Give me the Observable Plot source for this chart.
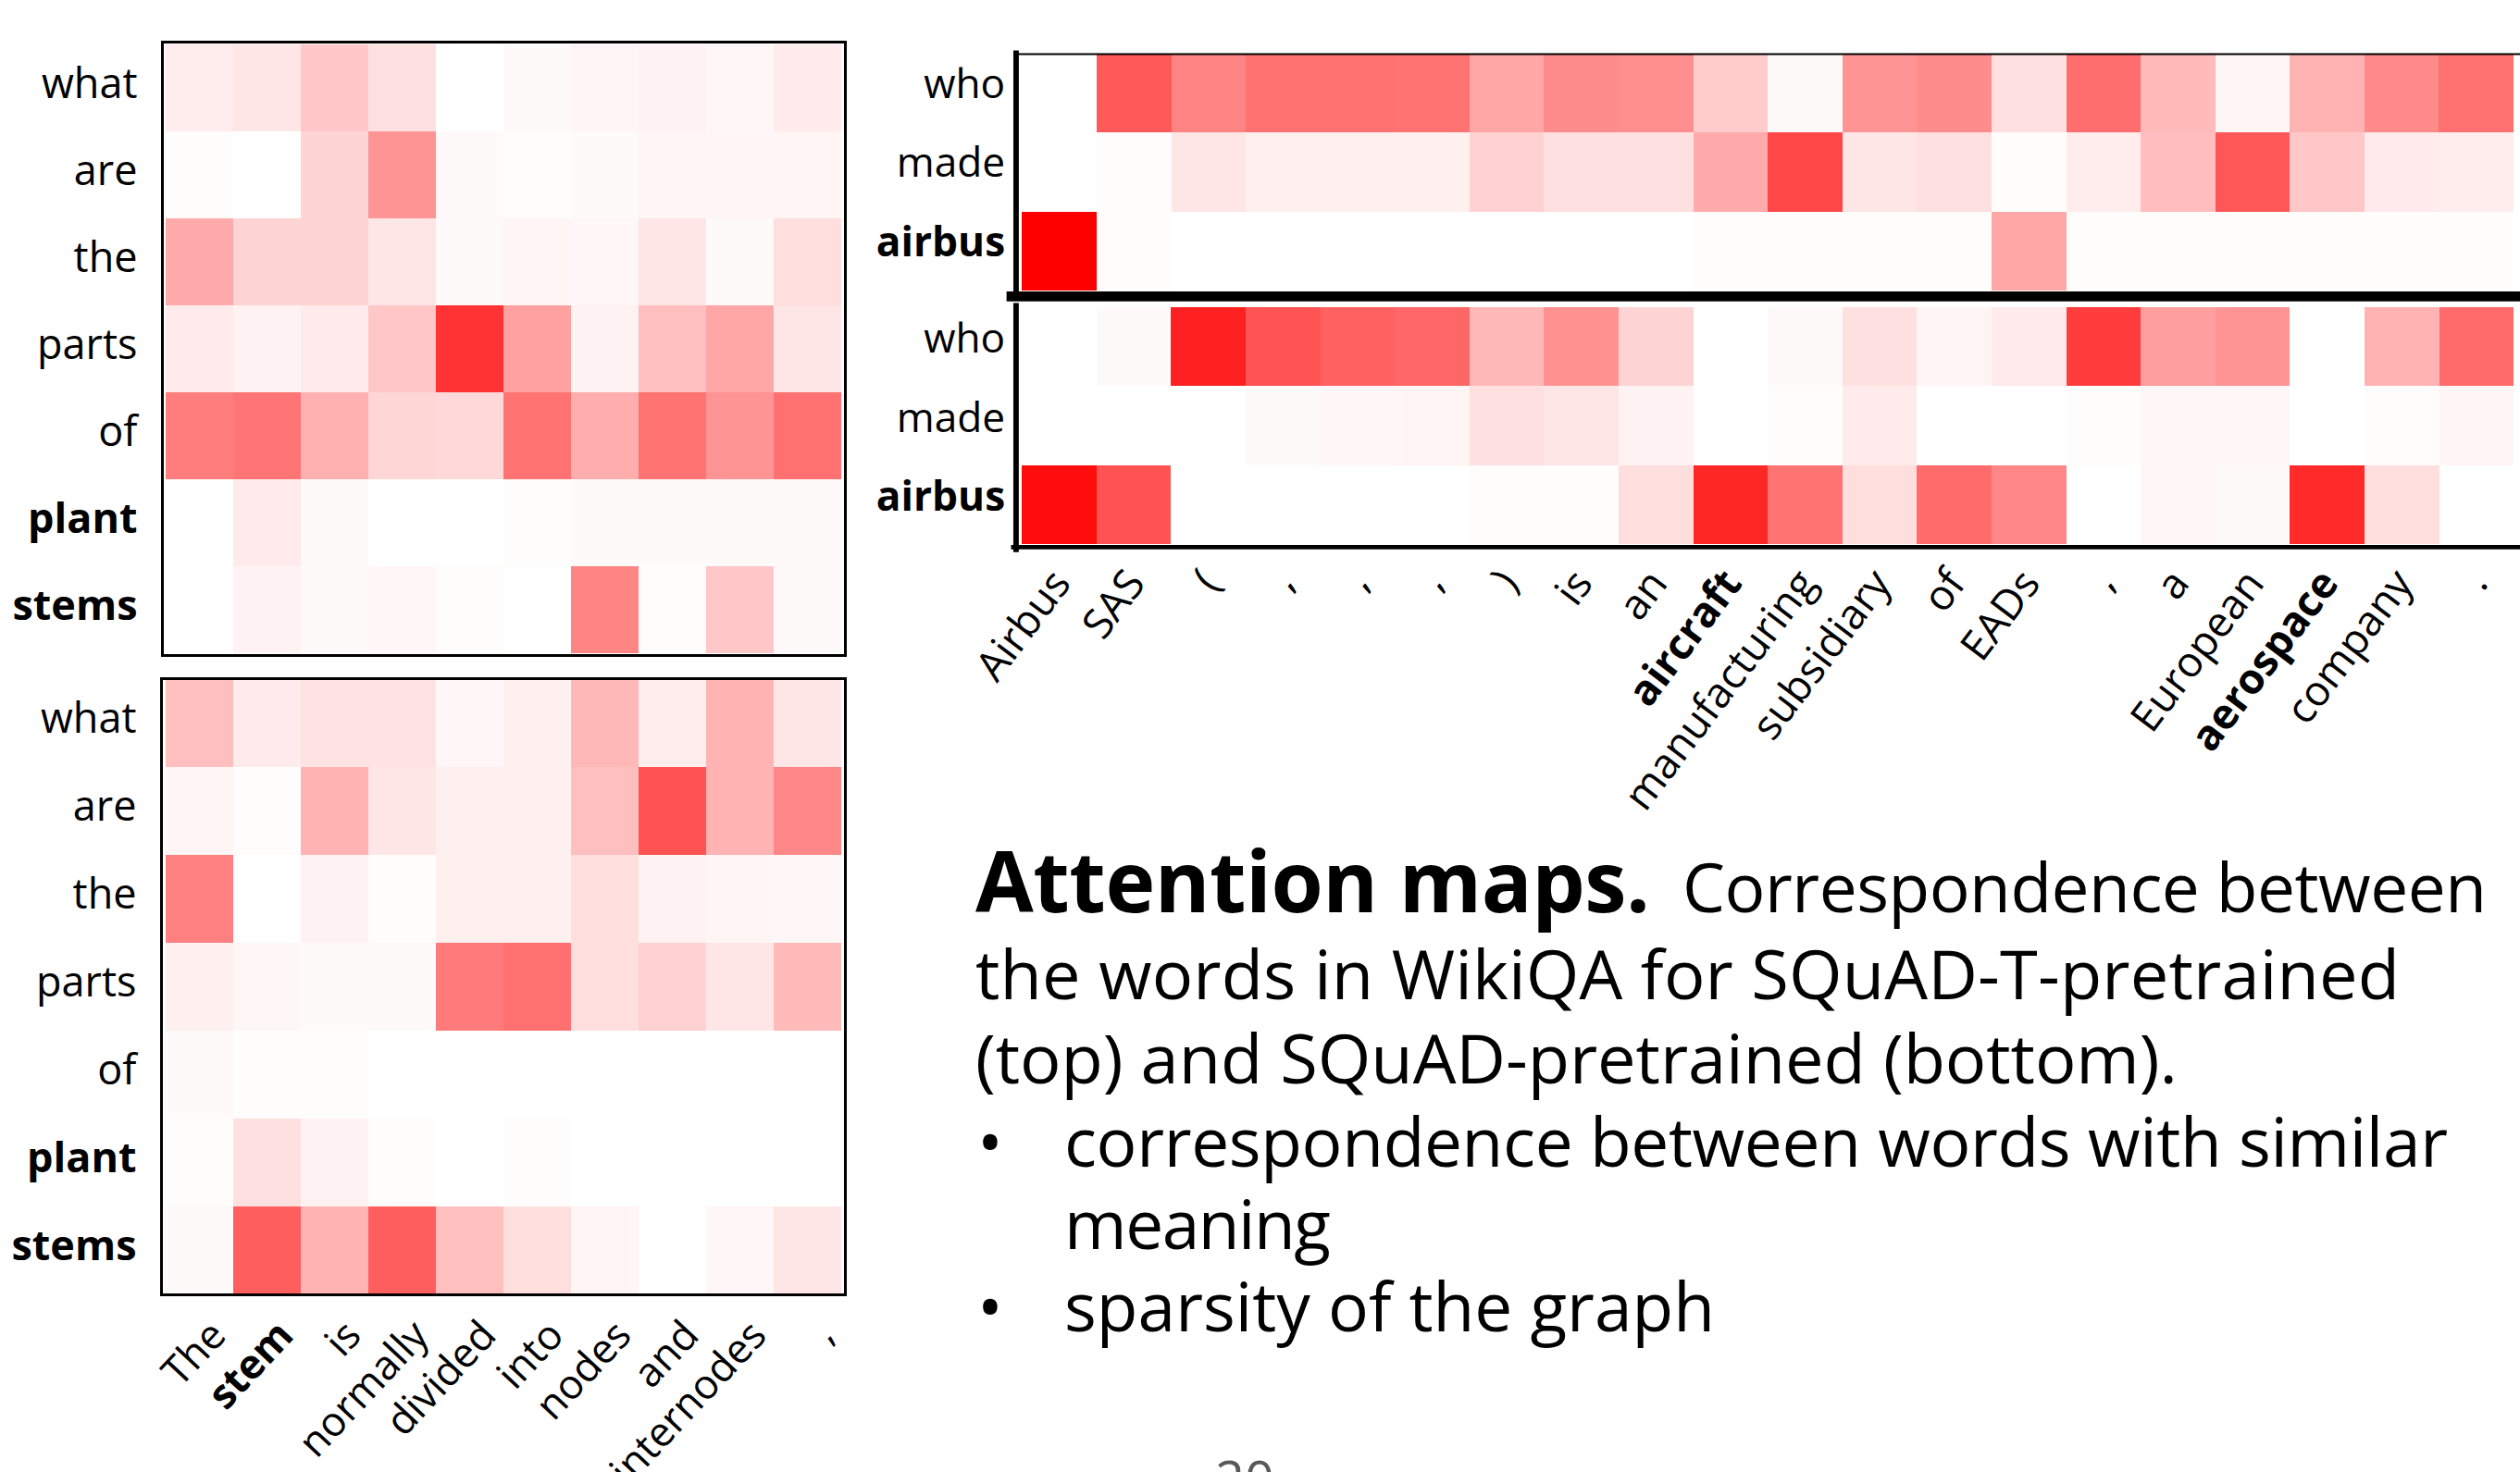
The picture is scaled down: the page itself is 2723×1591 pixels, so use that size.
<!DOCTYPE html>
<html><head><meta charset="utf-8">
<script src="https://cdn.jsdelivr.net/npm/d3@7"></script>
<script src="https://cdn.jsdelivr.net/npm/@observablehq/plot@0.6"></script>
<style>
html,body{margin:0;padding:0;background:#fff;}
body{width:2723px;height:1591px;overflow:hidden;position:relative;font-family:"Open Sans",sans-serif;}
.abs{position:absolute;}
.abs svg{overflow:visible;}
</style></head><body>
<div id="lt" class="abs" style="left:0;top:0"></div>
<div id="lb" class="abs" style="left:0;top:690px"></div>
<div id="rt" class="abs" style="left:950px;top:0"></div>
<div id="rb" class="abs" style="left:950px;top:325px"></div>
<svg class="abs" style="left:0;top:0" width="2723" height="1591" font-family="'Open Sans', sans-serif" fill="#000">
  <text x="1054" y="986" font-weight="bold" font-size="91" textLength="729" lengthAdjust="spacing">Attention maps.</text>
  <text x="1818" y="986" font-size="73" textLength="869" lengthAdjust="spacing">Correspondence between</text>
  <text x="1054" y="1080" font-size="74" textLength="1539" lengthAdjust="spacing">the words in WikiQA for SQuAD-T-pretrained</text>
  <text x="1054" y="1171" font-size="74" textLength="1299" lengthAdjust="spacing">(top) and SQuAD-pretrained (bottom).</text>
  <text x="1056" y="1261" font-size="74">•</text>
  <text x="1150" y="1261" font-size="73" textLength="1495" lengthAdjust="spacing">correspondence between words with similar</text>
  <text x="1150" y="1350" font-size="73" textLength="288" lengthAdjust="spacing">meaning</text>
  <text x="1056" y="1439" font-size="74">•</text>
  <text x="1150" y="1439" font-size="73" textLength="703" lengthAdjust="spacing">sparsity of the graph</text>
  <text x="1313" y="1620" font-size="56" fill="#595959">20</text>
</svg>
<script>
// ---- data ----
const leftRows = ["what","are","the","parts","of","plant","stems"];
const leftCols = ["The","stem","is","normally","divided","into","nodes","and","internodes",","];
const leftTopValues = [
  [0.07,0.10,0.22,0.12,0.00,0.02,0.04,0.05,0.03,0.08],
  [0.01,0.00,0.17,0.42,0.02,0.01,0.02,0.04,0.04,0.04],
  [0.33,0.17,0.17,0.10,0.02,0.04,0.03,0.10,0.02,0.13],
  [0.08,0.05,0.08,0.22,0.80,0.37,0.05,0.25,0.35,0.10],
  [0.51,0.54,0.31,0.16,0.15,0.55,0.32,0.55,0.42,0.56],
  [0.00,0.08,0.02,0.00,0.00,0.01,0.02,0.02,0.02,0.02],
  [0.00,0.05,0.02,0.03,0.01,0.00,0.48,0.01,0.22,0.02]
];
const leftBottomValues = [
  [0.25,0.08,0.11,0.11,0.03,0.06,0.28,0.07,0.30,0.10],
  [0.04,0.01,0.30,0.10,0.06,0.06,0.25,0.68,0.30,0.47],
  [0.50,0.00,0.05,0.01,0.06,0.06,0.13,0.05,0.04,0.03],
  [0.06,0.03,0.02,0.02,0.52,0.56,0.13,0.18,0.10,0.27],
  [0.02,0.01,0.01,0.00,0.00,0.00,0.00,0.00,0.00,0.00],
  [0.01,0.12,0.05,0.01,0.00,0.01,0.00,0.00,0.00,0.00],
  [0.02,0.63,0.30,0.63,0.25,0.13,0.04,0.00,0.03,0.10]
];
const rightRows = ["who","made","airbus"];
const rightCols = ["Airbus","SAS","(",",",",",",",")","is","an","aircraft","manufacturing","subsidiary","of","EADs",",","a","European","aerospace","company","."];
const rightTopValues = [
  [0.00,0.65,0.48,0.56,0.56,0.55,0.35,0.45,0.44,0.20,0.02,0.42,0.45,0.12,0.57,0.27,0.04,0.30,0.46,0.56],
  [0.00,0.01,0.10,0.06,0.06,0.06,0.18,0.12,0.12,0.33,0.72,0.10,0.12,0.01,0.07,0.26,0.66,0.22,0.08,0.07],
  [1.00,0.01,0.00,0.00,0.00,0.00,0.00,0.00,0.00,0.01,0.01,0.01,0.01,0.35,0.01,0.01,0.01,0.01,0.01,0.01]
];
const rightBottomValues = [
  [0.00,0.02,0.87,0.67,0.62,0.60,0.28,0.43,0.17,0.00,0.02,0.12,0.04,0.08,0.76,0.38,0.42,0.00,0.30,0.58],
  [0.00,0.00,0.00,0.02,0.03,0.04,0.12,0.10,0.05,0.00,0.01,0.08,0.00,0.00,0.01,0.03,0.03,0.00,0.01,0.04],
  [0.95,0.68,0.00,0.00,0.00,0.00,0.01,0.01,0.13,0.85,0.55,0.13,0.58,0.47,0.00,0.03,0.02,0.83,0.13,0.00]
];
const boldWords = ["plant","stems","stem","airbus","aircraft","aerospace"];

// ---- helpers ----
const toCells = (vals) => vals.flatMap((row, r) => row.map((v, c) => ({r, c, v})));
const colorScale = {type: "linear", domain: [0, 1], range: ["#ffffff", "#ff0000"], interpolate: "rgb"};
const font = "'Open Sans', sans-serif";
function boldify(svg) {
  d3.select(svg).selectAll("text").filter(function () {
    return boldWords.includes(this.textContent.trim());
  }).attr("font-weight", "bold");
  return svg;
}

// ---- left top ----
document.getElementById("lt").append(boldify(Plot.plot({
  width: 923, height: 713,
  marginLeft: 175, marginTop: 45, marginRight: 10, marginBottom: 5,
  style: {fontFamily: font, color: "black", background: "transparent"},
  x: {type: "band", domain: d3.range(leftCols.length), padding: 0, axis: null},
  y: {type: "band", domain: d3.range(leftRows.length), padding: 0, label: null},
  color: colorScale,
  marks: [
    Plot.cell(toCells(leftTopValues), {x: "c", y: "r", fill: "v", inset: 0, shapeRendering: "crispEdges"}),
    Plot.axisY({tickSize: 0, tickPadding: 27, tickFormat: i => leftRows[i], fontSize: 45, label: null, dy: -4}),
    Plot.frame({stroke: "black", strokeWidth: 3})
  ]
})));

// ---- left bottom ----
document.getElementById("lb").append(boldify(Plot.plot({
  width: 923, height: 909,
  marginLeft: 174, marginTop: 43, marginRight: 10, marginBottom: 200,
  style: {fontFamily: font, color: "black", background: "transparent"},
  x: {type: "band", domain: d3.range(leftCols.length), padding: 0, label: null},
  y: {type: "band", domain: d3.range(leftRows.length), padding: 0, label: null},
  color: colorScale,
  marks: [
    Plot.cell(toCells(leftBottomValues), {x: "c", y: "r", fill: "v", inset: 0, shapeRendering: "crispEdges"}),
    Plot.axisY({tickSize: 0, tickPadding: 27, tickFormat: i => leftRows[i], fontSize: 45, label: null, dy: -4}),
    Plot.axisX({tickSize: 0, tickPadding: 36, tickRotate: -47, tickFormat: i => leftCols[i], fontSize: 44, label: null, dx: 20}),
    Plot.frame({stroke: "black", strokeWidth: 3})
  ]
})));

// ---- right top ----
const rColW = 82.7;
document.getElementById("rt").append(boldify(Plot.plot({
  width: 150 + rColW * rightCols.length, height: 332,
  marginLeft: 150, marginTop: 59, marginRight: 0, marginBottom: 12,
  style: {fontFamily: font, color: "black", background: "transparent"},
  x: {type: "band", domain: d3.range(rightCols.length), padding: 0, axis: null},
  y: {type: "band", domain: d3.range(rightRows.length), padding: 0, label: null},
  color: colorScale,
  marks: [
    Plot.cell(toCells(rightTopValues), {x: "c", y: "r", fill: "v", inset: 0, shapeRendering: "crispEdges"}),
    Plot.axisY({tickSize: 0, tickPadding: 12, tickFormat: i => rightRows[i], fontSize: 45, label: null, dy: -10}),
    Plot.frame({anchor: "top", stroke: "black", strokeWidth: 2}),
    Plot.frame({anchor: "bottom", stroke: "black", strokeWidth: 11, insetBottom: -5.5, insetLeft: -5}),
    Plot.frame({anchor: "left", stroke: "black", strokeWidth: 6, insetTop: -1, insetBottom: -6})
  ]
})));

// ---- right bottom ----
document.getElementById("rb").append(boldify(Plot.plot({
  width: 150 + rColW * rightCols.length, height: 580,
  marginLeft: 150, marginTop: 6, marginRight: 0, marginBottom: 312,
  style: {fontFamily: font, color: "black", background: "transparent"},
  x: {type: "band", domain: d3.range(rightCols.length), padding: 0, label: null},
  y: {type: "band", domain: d3.range(rightRows.length), padding: 0, label: null},
  color: colorScale,
  marks: [
    Plot.cell(toCells(rightBottomValues), {x: "c", y: "r", fill: "v", inset: 0, shapeRendering: "crispEdges"}),
    Plot.axisY({tickSize: 0, tickPadding: 12, tickFormat: i => rightRows[i], fontSize: 45, label: null, dy: -8}),
    Plot.axisX({tickSize: 0, tickPadding: 34, tickRotate: -53, tickFormat: i => rightCols[i], fontSize: 46, label: null, dx: 2}),
    Plot.frame({anchor: "bottom", stroke: "black", strokeWidth: 5, insetBottom: -2.5, insetLeft: -3}),
    Plot.frame({anchor: "left", stroke: "black", strokeWidth: 6, insetTop: -1, insetBottom: -5})
  ]
})));
</script>
</body></html>
